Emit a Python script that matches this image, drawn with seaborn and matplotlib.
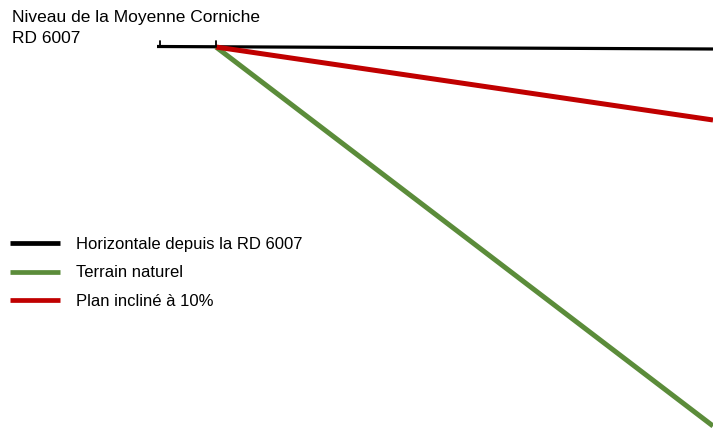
import matplotlib
matplotlib.use("Agg")
import matplotlib.pyplot as plt
import seaborn as sns
import pandas as pd

# Data (horizontal distance, elevation relative to the RD 6007 level)
series_names = ["Horizontale depuis la RD 6007", "Terrain naturel", "Plan incliné à 10%"]
horiz_x = [-59, 497]
horiz_y = [0.5, -2]
terrain_x = [0, 497]
terrain_y = [0, -379]
plan_x = [0, 497]
plan_y = [0, -73]
tick_x = [-56, 0]
title_text = "Niveau de la Moyenne Corniche\nRD 6007"

colors = {series_names[0]: "#000000", series_names[1]: "#5B8C3A", series_names[2]: "#C00000"}
widths = {series_names[0]: 2.3, series_names[1]: 3.6, series_names[2]: 3.6}

sns.set_theme(style="white")
plt.rcParams["font.family"] = ["Liberation Sans Narrow", "Liberation Sans", "DejaVu Sans"]
plt.rcParams["text.color"] = "black"

fig = plt.figure(figsize=(7.13, 4.43), dpi=100)
ax = fig.add_axes([0, 0, 1, 1])

df = pd.concat([
    pd.DataFrame({"x": horiz_x, "y": horiz_y, "serie": series_names[0]}),
    pd.DataFrame({"x": terrain_x, "y": terrain_y, "serie": series_names[1]}),
    pd.DataFrame({"x": plan_x, "y": plan_y, "serie": series_names[2]}),
])

for name in series_names:
    sub = df[df["serie"] == name]
    sns.lineplot(data=sub, x="x", y="y", ax=ax, color=colors[name],
                 linewidth=widths[name], label=name, sort=False,
                 estimator=None, solid_capstyle="butt")

for tx in tick_x:
    ax.plot([tx, tx], [0, 6], color="black", linewidth=1.3)

ax.set_xlim(-216, 497)
ax.set_ylim(-396, 47)
ax.axis("off")

fig.text(12 / 713, 1 - 10 / 443, title_text, ha="left", va="top",
         fontsize=12.5, linespacing=1.5, color="black")

leg = ax.legend(loc="upper left", bbox_to_anchor=(3 / 713, 1 - 230 / 443),
                bbox_transform=fig.transFigure, frameon=False, fontsize=12,
                handlelength=3.0, handletextpad=0.95, labelspacing=0.82,
                borderaxespad=0)
for line in leg.get_lines():
    line.set_linewidth(3.4)
for t in leg.get_texts():
    t.set_color("black")

fig.savefig("out.png", dpi=100)
